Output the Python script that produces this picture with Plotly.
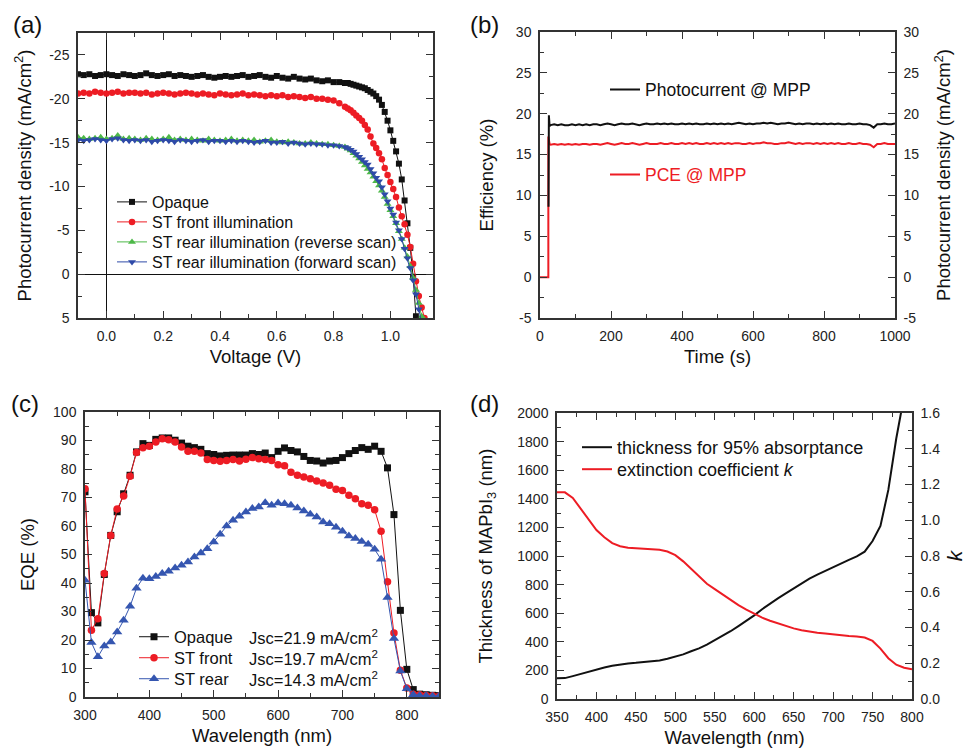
import plotly.graph_objects as go

W, H = 966, 755
FONT = "Liberation Sans, Arial, sans-serif"

# ---------------- (a) J-V curves ----------------
voltage = [-0.10, -0.08, -0.06, -0.04, -0.02, 0.00, 0.02, 0.04, 0.06, 0.08,
           0.10, 0.12, 0.14, 0.16, 0.18, 0.20, 0.22, 0.24, 0.26, 0.28,
           0.30, 0.32, 0.34, 0.36, 0.38, 0.40, 0.42, 0.44, 0.46, 0.48,
           0.50, 0.52, 0.54, 0.56, 0.58, 0.60, 0.62, 0.64, 0.66, 0.68,
           0.70, 0.72, 0.74, 0.76, 0.78, 0.80, 0.82, 0.84,
           0.85, 0.86, 0.87, 0.88, 0.89, 0.90, 0.91, 0.92, 0.93, 0.94,
           0.95, 0.96, 0.97, 0.98, 0.99, 1.00, 1.01, 1.02, 1.03, 1.04,
           1.05, 1.06, 1.07, 1.08, 1.09, 1.10, 1.11, 1.12]

j_opaque = [-22.8, -22.7, -22.8, -22.6, -22.7, -22.8, -22.7, -22.6, -22.8, -22.7,
            -22.6, -22.7, -22.9, -22.7, -22.6, -22.7, -22.8, -22.6, -22.7, -22.6,
            -22.5, -22.6, -22.7, -22.5, -22.4, -22.5, -22.6, -22.5, -22.6, -22.7,
            -22.5, -22.6, -22.7, -22.5, -22.4, -22.6, -22.4, -22.3, -22.5, -22.3,
            -22.2, -22.3, -22.1, -22.0, -22.1, -21.9, -21.9, -21.8,
            -21.8, -21.7, -21.6, -21.5, -21.4, -21.3, -21.2, -21.0, -20.8, -20.6,
            -20.3, -19.9, -19.3, -18.5, -17.5, -16.4, -15.2, -14.0, -12.6, -10.8,
            -8.4, -5.8, -3.0, 0.3, 4.8, None, None, None]

j_front = [-20.6, -20.7, -20.6, -20.8, -20.7, -20.6, -20.7, -20.8, -20.6, -20.7,
           -20.7, -20.6, -20.7, -20.5, -20.6, -20.7, -20.6, -20.5, -20.6, -20.7,
           -20.6, -20.5, -20.6, -20.5, -20.4, -20.6, -20.5, -20.4, -20.5, -20.6,
           -20.4, -20.5, -20.4, -20.3, -20.4, -20.3, -20.4, -20.2, -20.3, -20.2,
           -20.1, -20.2, -20.0, -20.0, -19.9, -19.8, -19.5, -19.1,
           -18.9, -18.7, -18.4, -18.1, -17.8, -17.5, -17.0, -16.5, -15.7, -14.9,
           -14.4, -13.8, -13.1, -12.1, -11.3, -10.5, -9.7, -8.8, -7.6, -6.6,
           -5.7, -4.5, -3.1, -1.2, 0.8, 2.5, 3.8, 5.0]

j_rear_rev = [-15.6, -15.5, -15.4, -15.5, -15.6, -15.4, -15.5, -15.8, -15.4, -15.5,
              -15.4, -15.3, -15.5, -15.4, -15.3, -15.4, -15.6, -15.3, -15.4, -15.3,
              -15.4, -15.3, -15.2, -15.4, -15.3, -15.2, -15.3, -15.4, -15.2, -15.3,
              -15.2, -15.3, -15.1, -15.2, -15.3, -15.1, -15.0, -15.1, -15.0, -14.9,
              -14.9, -15.0, -14.9, -14.8, -14.8, -14.7, -14.6, -14.5,
              -14.3, -14.1, -13.8, -13.5, -13.2, -12.8, -12.4, -12.0, -11.6, -11.1,
              -10.6, -10.1, -9.5, -8.8, -8.0, -7.3, -6.6, -5.8, -4.9, -4.0,
              -3.0, -2.0, -0.9, 0.4, 1.8, 3.3, 4.8, None]

j_rear_fwd = [-15.3, -15.2, -15.3, -15.4, -15.3, -15.2, -15.4, -15.5, -15.3, -15.2,
              -15.3, -15.2, -15.3, -15.1, -15.2, -15.3, -15.2, -15.1, -15.3, -15.2,
              -15.1, -15.2, -15.3, -15.1, -15.2, -15.2, -15.1, -15.2, -15.1, -15.2,
              -15.1, -15.0, -15.1, -15.2, -15.0, -15.0, -15.1, -14.9, -15.0, -14.9,
              -14.8, -14.9, -14.8, -14.8, -14.7, -14.7, -14.6, -14.5,
              -14.4, -14.2, -14.0, -13.7, -13.4, -13.1, -12.8, -12.5, -12.0, -11.5,
              -11.0, -10.6, -9.9, -9.1, -8.3, -7.5, -6.8, -5.9, -5.0, -4.0,
              -2.9, -1.8, -0.7, 0.7, 2.3, 4.0, 5.6, None]

a_yticks = [-25, -20, -15, -10, -5, 0, 5]
a_yticktext = ["-25", "-20", "-15", "-10", "-5", "0", "5"]

# ---------------- (b) MPP tracking ----------------
t_pce = [0, 23.5, 23.5, 25, 27]
pce_start = [0, 0, 17.2, 16.6, 16.3]
t_jmpp = [24, 25, 27]
jmpp_start = [8.6, 19.8, 18.5]
t_track = [30, 40, 50, 60, 70, 80, 90, 100, 110, 120,
           130, 140, 150, 160, 170, 180, 190, 200, 210, 220,
           230, 240, 250, 260, 270, 280, 290, 300, 310, 320,
           330, 340, 350, 360, 370, 380, 390, 400, 410, 420,
           430, 440, 450, 460, 470, 480, 490, 500, 510, 520,
           530, 540, 550, 560, 570, 580, 590, 600, 610, 620,
           630, 640, 650, 660, 670, 680, 690, 700, 710, 720,
           730, 740, 750, 760, 770, 780, 790, 800, 810, 820,
           830, 840, 850, 860, 870, 880, 890, 900, 910, 920,
           930, 940, 950, 960, 970, 980, 990, 1000]
jmpp_track = [18.6, 18.7, 18.6, 18.7, 18.6, 18.6, 18.7, 18.6, 18.7, 18.6,
              18.7, 18.6, 18.7, 18.7, 18.6, 18.7, 18.8, 18.7, 18.6, 18.7,
              18.8, 18.7, 18.7, 18.8, 18.7, 18.6, 18.7, 18.8, 18.7, 18.7,
              18.8, 18.7, 18.8, 18.7, 18.8, 18.7, 18.7, 18.8, 18.7, 18.8,
              18.7, 18.8, 18.7, 18.7, 18.8, 18.7, 18.8, 18.7, 18.8, 18.7,
              18.8, 18.7, 18.8, 18.9, 18.8, 18.7, 18.8, 18.7, 18.8, 18.8,
              18.9, 18.8, 18.9, 18.8, 18.7, 18.8, 18.8, 18.9, 18.8, 18.7,
              18.8, 18.7, 18.8, 18.8, 18.7, 18.8, 18.7, 18.8, 18.7, 18.8,
              18.7, 18.8, 18.7, 18.7, 18.8, 18.7, 18.7, 18.8, 18.7, 18.7,
              18.6, 18.3, 18.7, 18.7, 18.8, 18.7, 18.7, 18.8]
pce_track = [16.2, 16.3, 16.2, 16.3, 16.2, 16.3, 16.2, 16.3, 16.2, 16.3,
             16.3, 16.2, 16.3, 16.3, 16.2, 16.3, 16.4, 16.3, 16.2, 16.3,
             16.4, 16.3, 16.3, 16.4, 16.3, 16.2, 16.3, 16.4, 16.3, 16.3,
             16.3, 16.4, 16.3, 16.3, 16.4, 16.3, 16.3, 16.4, 16.3, 16.4,
             16.3, 16.4, 16.3, 16.3, 16.4, 16.3, 16.4, 16.3, 16.4, 16.3,
             16.4, 16.3, 16.4, 16.4, 16.3, 16.3, 16.4, 16.3, 16.4, 16.4,
             16.5, 16.4, 16.4, 16.3, 16.3, 16.4, 16.4, 16.5, 16.4, 16.3,
             16.4, 16.3, 16.4, 16.4, 16.3, 16.4, 16.3, 16.4, 16.3, 16.4,
             16.3, 16.4, 16.3, 16.3, 16.4, 16.3, 16.3, 16.4, 16.3, 16.3,
             16.2, 15.9, 16.3, 16.3, 16.4, 16.3, 16.3, 16.3]
b_yticks = [-5, 0, 5, 10, 15, 20, 25, 30]
b_yticktext = ["-5", "0", "5", "10", "15", "20", "25", "30"]

# ---------------- (c) EQE ----------------
wl_eqe = [300, 310, 320, 330, 340, 350, 360, 370, 380, 390,
          400, 410, 420, 430, 440, 450, 460, 470, 480, 490,
          500, 510, 520, 530, 540, 550, 560, 570, 580, 590,
          600, 610, 620, 630, 640, 650, 660, 670, 680, 690,
          700, 710, 720, 730, 740, 750, 760, 770, 780, 790,
          800, 810, 820, 830, 840, 850]
eqe_opaque = [72.0, 29.6, 26.0, 43.0, 56.7, 65.0, 71.3, 77.8, 86.0, 88.9,
              88.3, 90.4, 90.9, 90.9, 90.1, 89.1, 88.0, 87.5, 86.9, 85.4,
              85.1, 84.6, 84.8, 84.9, 84.9, 84.9, 85.4, 85.1, 85.6, 84.0,
              86.2, 87.4, 86.5, 86.0, 84.4, 83.0, 82.8, 82.1, 82.8, 83.0,
              84.0, 85.4, 86.5, 87.5, 86.9, 88.0, 86.2, 80.4, 64.0, 30.4,
              9.7, 2.6, 1.0, 0.8, 0.6, 0.5]
eqe_front = [73.1, 23.4, 27.5, 43.3, 56.7, 66.0, 70.5, 77.5, 85.8, 87.5,
             88.0, 89.5, 90.6, 90.3, 89.5, 87.7, 86.2, 86.2, 85.6, 83.3,
             83.0, 82.7, 83.0, 83.3, 82.8, 83.4, 84.0, 83.6, 83.3, 83.0,
             81.5, 81.1, 78.9, 77.8, 77.2, 76.6, 75.8, 75.1, 74.3, 72.9,
             72.5, 70.8, 69.6, 67.8, 67.3, 65.7, 58.2, 40.4, 22.5, 9.4,
             3.2, 1.0, 0.8, 0.5, 0.4, 0.3]
eqe_rear = [41.0, 19.1, 14.1, 17.9, 19.3, 22.8, 26.9, 31.8, 38.2, 41.7,
            41.5, 42.3, 43.3, 44.1, 45.3, 46.2, 47.4, 49.1, 50.5, 52.0,
            54.4, 57.1, 60.0, 62.0, 63.4, 64.9, 66.1, 66.7, 68.2, 67.3,
            68.1, 67.8, 67.3, 66.3, 65.3, 64.1, 63.2, 61.4, 60.8, 59.6,
            58.2, 56.5, 55.6, 54.6, 53.6, 51.8, 48.3, 34.9, 20.5, 9.1,
            2.9, 0.8, 0.5, 0.4, 0.3, 0.3]
jsc_labels = ["Jsc=21.9 mA/cm<sup>2</sup>", "Jsc=19.7 mA/cm<sup>2</sup>",
              "Jsc=14.3 mA/cm<sup>2</sup>"]

# ---------------- (d) thickness & k ----------------
wl_d = [350, 360, 370, 380, 390, 400, 410, 420, 430, 440,
        450, 460, 470, 480, 490, 500, 510, 520, 530, 540,
        550, 560, 570, 580, 590, 600, 610, 620, 630, 640,
        650, 660, 670, 680, 690, 700, 710, 720, 730, 740,
        750, 760, 770, 780, 786, 790]
thickness = [145, 146, 160, 176, 192, 207, 220, 232, 241, 249,
             253, 257, 264, 270, 281, 294, 312, 334, 354, 380,
             410, 443, 474, 510, 545, 585, 628, 669, 704, 738,
             773, 809, 842, 870, 896, 925, 952, 973, 997, 1030,
             1105, 1210, 1462, 1820, 2000, 2150]
wl_k = [350, 360, 370, 380, 390, 400, 410, 420, 430, 440,
        450, 460, 470, 480, 490, 500, 510, 520, 530, 540,
        550, 560, 570, 580, 590, 600, 610, 620, 630, 640,
        650, 660, 670, 680, 690, 700, 710, 720, 730, 740,
        750, 760, 770, 780, 790, 800]
k_ext = [1.156, 1.156, 1.125, 1.065, 1.000, 0.945, 0.905, 0.872, 0.855, 0.846,
         0.843, 0.841, 0.839, 0.835, 0.825, 0.805, 0.770, 0.727, 0.685, 0.645,
         0.615, 0.585, 0.553, 0.525, 0.500, 0.478, 0.455, 0.438, 0.423, 0.410,
         0.395, 0.385, 0.377, 0.371, 0.366, 0.360, 0.355, 0.352, 0.350, 0.344,
         0.325, 0.282, 0.228, 0.192, 0.175, 0.166]

BLACK = "#111111"
RED = "#ed1c24"
GREEN = "#4db848"
BLUE = "#2e4aa8"
BLUE_C = "#3556b0"
AXC = "#333333"


def px_x(x):
    return x / W


def px_y(y):
    return 1 - y / H


fig = go.Figure()

# legend placement: (legend id, left px, text-center px, font size, font colour)
legend_specs = {}


def add_legend(lid, left, center, fs, color="#111111"):
    legend_specs[lid] = dict(
        x=px_x(left), y=px_y(center - fs - 1), xanchor="left", yanchor="top",
        bgcolor="rgba(0,0,0,0)", borderwidth=0, itemclick=False,
        font=dict(family=FONT, size=fs, color=color))


# (a)
a_series = [
    ("Opaque", j_opaque, BLACK, "square", 6, 202),
    ("ST front illumination", j_front, RED, "circle", 6.5, 222),
    ("ST rear illumination (reverse scan)", j_rear_rev, GREEN, "triangle-up", 7, 242),
    ("ST rear illumination (forward scan)", j_rear_fwd, BLUE, "triangle-down", 7, 262),
]
for i, (name, yv, col, sym, sz, cy) in enumerate(a_series):
    lid = "legend" if i == 0 else "legend%d" % (i + 1)
    add_legend(lid, 112, cy, 16)
    fig.add_trace(go.Scatter(x=voltage, y=yv, name=name, mode="lines+markers",
                             line=dict(color=col, width=1),
                             marker=dict(symbol=sym, size=sz, color=col),
                             xaxis="x", yaxis="y", legend=lid))

# (b)
add_legend("legend5", 605, 90, 17.5)
add_legend("legend6", 605, 175, 17.5, RED)
fig.add_trace(go.Scatter(x=t_jmpp + t_track, y=jmpp_start + jmpp_track,
                         name="Photocurrent @ MPP", mode="lines",
                         line=dict(color=BLACK, width=2),
                         xaxis="x2", yaxis="y3", legend="legend5"))
fig.add_trace(go.Scatter(x=t_pce + t_track, y=pce_start + pce_track,
                         name="PCE @ MPP", mode="lines",
                         line=dict(color=RED, width=2),
                         xaxis="x2", yaxis="y2", legend="legend6"))

# (c)
c_series = [
    ("Opaque", eqe_opaque, BLACK, "square", 7, 637, "legend7"),
    ("ST front", eqe_front, RED, "circle", 7.5, 658, "legend8"),
    ("ST rear", eqe_rear, BLUE_C, "triangle-up", 9, 679, "legend9"),
]
for name, yv, col, sym, sz, cy, lid in c_series:
    add_legend(lid, 134, cy, 16.5)
    fig.add_trace(go.Scatter(x=wl_eqe, y=yv, name=name, mode="lines+markers",
                             line=dict(color=col, width=1),
                             marker=dict(symbol=sym, size=sz, color=col),
                             xaxis="x3", yaxis="y4", legend=lid))

# (d)
add_legend("legend10", 577, 448, 18)
add_legend("legend11", 577, 470, 18)
fig.add_trace(go.Scatter(x=wl_d, y=thickness, name="thickness for 95% absorptance",
                         mode="lines", line=dict(color=BLACK, width=2),
                         xaxis="x4", yaxis="y5", legend="legend10"))
fig.add_trace(go.Scatter(x=wl_k, y=k_ext, name="extinction coefficient <i>k</i>",
                         mode="lines", line=dict(color=RED, width=2),
                         xaxis="x4", yaxis="y6", legend="legend11"))

TICKFONT = dict(family=FONT, size=14, color="#222222")


def axis(rng, dtick, minor_dtick, domain, anchor, title, mirror=True,
         standoff=8, title_size=18.5, **kw):
    d = dict(range=rng, domain=domain, anchor=anchor,
             showline=True, linecolor=AXC, linewidth=1.5,
             mirror="ticks" if mirror else False,
             ticks="inside", ticklen=7, tickwidth=1.3, tickcolor=AXC,
             showgrid=False, zeroline=False, tickfont=TICKFONT,
             dtick=dtick, tick0=0,
             minor=dict(ticks="inside", ticklen=4, tickwidth=1.1, tickcolor=AXC,
                        dtick=minor_dtick, tick0=0, showgrid=False),
             title=dict(text=title, standoff=standoff,
                        font=dict(family=FONT, size=title_size, color="#111111")),
             automargin=False, ticklabelstandoff=4)
    d.update(kw)
    return d


dom_a = ([px_x(78), px_x(433)], [px_y(318), px_y(33)])
dom_b = ([px_x(540), px_x(895)], [px_y(318), px_y(32)])
dom_c = ([px_x(85), px_x(439)], [px_y(697), px_y(412)])
dom_d = ([px_x(557), px_x(912)], [px_y(699), px_y(413)])

fig.update_layout(
    width=W, height=H, margin=dict(l=0, r=0, t=0, b=0),
    paper_bgcolor="white", plot_bgcolor="white",
    font=dict(family=FONT, color="#111111"),
    showlegend=True,
    xaxis=axis([-0.1, 1.15], 0.2, 0.1, dom_a[0], "y", "Voltage (V)",
               tickformat=".1f", zeroline=True, zerolinecolor="#111111",
               zerolinewidth=1),
    yaxis=axis([5, -27.5], 5, 2.5, dom_a[1], "x",
               "Photocurrent density (mA/cm<sup>2</sup>)", standoff=13,
               tickmode="array", tickvals=a_yticks, ticktext=a_yticktext,
               zeroline=True, zerolinecolor="#111111", zerolinewidth=1),
    xaxis2=axis([0, 1000], 200, 100, dom_b[0], "y2", "Time (s)"),
    yaxis2=axis([-5, 30], 5, 2.5, dom_b[1], "x2", "Efficiency (%)", mirror=False,
                standoff=17,
                tickmode="array", tickvals=b_yticks, ticktext=b_yticktext),
    yaxis3=axis([-5, 30], 5, 2.5, dom_b[1], "x2",
                "Photocurrent density (mA/cm<sup>2</sup>)", mirror=False,
                standoff=19, side="right", overlaying="y2",
                tickmode="array", tickvals=b_yticks, ticktext=b_yticktext),
    xaxis3=axis([300, 850], 100, 50, dom_c[0], "y4", "Wavelength (nm)"),
    yaxis4=axis([0, 100], 10, 5, dom_c[1], "x3", "EQE (%)", standoff=14),
    xaxis4=axis([350, 800], 50, 25, dom_d[0], "y5", "Wavelength (nm)"),
    yaxis5=axis([0, 2000], 200, 100, dom_d[1], "x4",
                "Thickness of MAPbI<sub>3</sub> (nm)", mirror=False, standoff=20),
    yaxis6=axis([0, 1.6], 0.2, 0.1, dom_d[1], "x4", "<i>k</i>", mirror=False,
                standoff=20, title_size=21, side="right", overlaying="y5",
                tickformat=".1f"),
    **legend_specs,
)

annots = []
for txt, x, y in [("(a)", 11, 25), ("(b)", 468, 25), ("(c)", 9, 403), ("(d)", 468, 403)]:
    annots.append(dict(text=txt, x=px_x(x), y=px_y(y), xref="paper", yref="paper",
                       xanchor="left", yanchor="middle", showarrow=False,
                       font=dict(family=FONT, size=24, color="#111111")))
for txt, y in zip(jsc_labels, [637, 658, 679]):
    annots.append(dict(text=txt, x=px_x(247), y=px_y(y), xref="paper", yref="paper",
                       xanchor="left", yanchor="middle", showarrow=False,
                       font=dict(family=FONT, size=16.5, color="#111111")))
fig.update_layout(annotations=annots)

fig.write_html("out.html",
               config={"displayModeBar": False},
               post_script="document.body.style.margin='0px';"
                           "document.body.style.overflow='hidden';")
